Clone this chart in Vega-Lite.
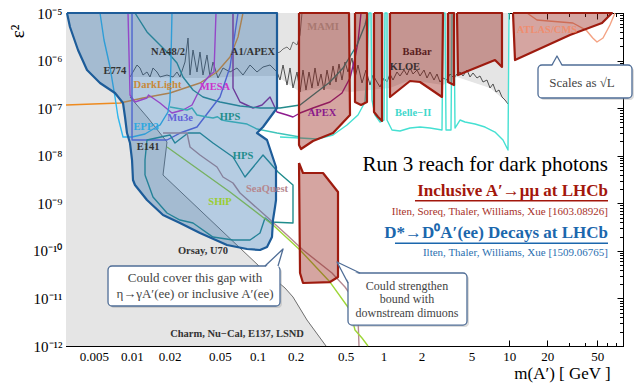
{
"$schema":"https://vega.github.io/schema/vega-lite/v6.json",
"width":557,"height":333,
"autosize":{"type":"none"},
"padding":{"left":66,"top":13,"right":11,"bottom":39},
"background":"white",
"config":{"view":{"stroke":"#000","strokeWidth":1},"axis":{"grid":false,"domainColor":"#000","tickColor":"#000","labelColor":"#000","labelFont":"Liberation Serif","titleFont":"Liberation Serif","titleFontWeight":"normal","titleColor":"#000"}},
"resolve":{"axis":{"x":"independent","y":"independent"},"scale":{"color":"independent"}},
"datasets":{
"polys":[
{"g":"bg","id":"bg","i":0,"m":0.003,"e":1e-12},{"g":"bg","id":"bg","i":1,"m":0.003,"e":1e-5},{"g":"bg","id":"bg","i":2,"m":9.757,"e":1e-5},{"g":"bg","id":"bg","i":3,"m":9.757,"e":1e-12},{"g":"bg","id":"bg","i":4,"m":0.003,"e":1e-12},
{"g":"w","id":"w","i":0,"m":0.01004,"e":4.52e-7},{"g":"w","id":"w","i":1,"m":0.01395,"e":4.52e-7},{"g":"w","id":"w","i":2,"m":0.02647,"e":4.3e-7},{"g":"w","id":"w","i":3,"m":0.04182,"e":4.3e-7},{"g":"w","id":"w","i":4,"m":0.07647,"e":4.74e-7},{"g":"w","id":"w","i":5,"m":0.1425,"e":4.74e-7},{"g":"w","id":"w","i":6,"m":0.2171,"e":2.18e-7},{"g":"w","id":"w","i":7,"m":0.313,"e":2.65e-7},{"g":"w","id":"w","i":8,"m":0.5418,"e":2.18e-7},{"g":"w","id":"w","i":9,"m":0.7811,"e":2.405e-7},{"g":"w","id":"w","i":10,"m":1.126,"e":2.65e-7},{"g":"w","id":"w","i":11,"m":1.624,"e":3.9e-7},{"g":"w","id":"w","i":12,"m":2.971,"e":3.06e-7},{"g":"w","id":"w","i":13,"m":3.837,"e":4.52e-7},{"g":"w","id":"w","i":14,"m":7.02,"e":2.65e-7},{"g":"w","id":"w","i":15,"m":9.757,"e":1.283e-7},{"g":"w","id":"w","i":16,"m":9.757,"e":1e-12},{"g":"w","id":"w","i":17,"m":0.3493,"e":1e-12},{"g":"w","id":"w","i":18,"m":0.2466,"e":3.52e-12},{"g":"w","id":"w","i":19,"m":0.1909,"e":1.072e-11},{"g":"w","id":"w","i":20,"m":0.165,"e":1.656e-11},{"g":"w","id":"w","i":21,"m":0.1044,"e":4.58e-11},{"g":"w","id":"w","i":22,"m":0.0177,"e":3.93e-9},{"g":"w","id":"w","i":23,"m":0.01904,"e":1.94e-8},{"g":"w","id":"w","i":24,"m":0.01345,"e":6.2e-8},{"g":"w","id":"w","i":25,"m":0.01004,"e":1.483e-7},{"g":"w","id":"w","i":26,"m":0.01004,"e":4.52e-7},
{"g":"b","id":"b","i":0,"m":0.003055,"e":1e-5},{"g":"b","id":"b","i":1,"m":0.003227,"e":5.08e-6},{"g":"b","id":"b","i":2,"m":0.003737,"e":1.668e-6},{"g":"b","id":"b","i":3,"m":0.004406,"e":6.33e-7},{"g":"b","id":"b","i":4,"m":0.00559,"e":3.38e-7},{"g":"b","id":"b","i":5,"m":0.007353,"e":2.08e-7},{"g":"b","id":"b","i":6,"m":0.008513,"e":1.283e-7},{"g":"b","id":"b","i":7,"m":0.008831,"e":6.51e-8},{"g":"b","id":"b","i":8,"m":0.00916,"e":3.0e-8},{"g":"b","id":"b","i":9,"m":0.009676,"e":1.85e-8},{"g":"b","id":"b","i":10,"m":0.01004,"e":8.12e-9},{"g":"b","id":"b","i":11,"m":0.01022,"e":3.09e-9},{"g":"b","id":"b","i":12,"m":0.0106,"e":2.42e-9},{"g":"b","id":"b","i":13,"m":0.0132,"e":1.172e-9},{"g":"b","id":"b","i":14,"m":0.0177,"e":5.67e-10},{"g":"b","id":"b","i":15,"m":0.02415,"e":3.85e-10},{"g":"b","id":"b","i":16,"m":0.03482,"e":2.37e-10},{"g":"b","id":"b","i":17,"m":0.05706,"e":1.327e-10},{"g":"b","id":"b","i":18,"m":0.08231,"e":1.094e-10},{"g":"b","id":"b","i":19,"m":0.1044,"e":1.042e-10},{"g":"b","id":"b","i":20,"m":0.1187,"e":1.205e-10},{"g":"b","id":"b","i":21,"m":0.13,"e":1.95e-10},{"g":"b","id":"b","i":22,"m":0.1324,"e":4.45e-10},{"g":"b","id":"b","i":23,"m":0.1374,"e":8.35e-10},{"g":"b","id":"b","i":24,"m":0.1399,"e":1.172e-9},{"g":"b","id":"b","i":25,"m":0.1399,"e":5.79e-9},{"g":"b","id":"b","i":26,"m":0.1187,"e":2.14e-8},{"g":"b","id":"b","i":27,"m":0.0988,"e":3.0e-8},{"g":"b","id":"b","i":28,"m":0.1103,"e":4.01e-8},{"g":"b","id":"b","i":29,"m":0.1425,"e":1.007e-7},{"g":"b","id":"b","i":30,"m":0.1425,"e":1e-5},{"g":"b","id":"b","i":31,"m":0.003055,"e":1e-5},
{"g":"r","id":"r1","i":0,"m":0.2131,"e":1e-5},{"g":"r","id":"r1","i":1,"m":0.5318,"e":1e-5},{"g":"r","id":"r1","i":2,"m":0.5418,"e":7.17e-8},{"g":"r","id":"r1","i":3,"m":0.397,"e":3.0e-8},{"g":"r","id":"r1","i":4,"m":0.2753,"e":2.04e-8},{"g":"r","id":"r1","i":5,"m":0.2211,"e":1.384e-8},{"g":"r","id":"r1","i":6,"m":0.2131,"e":1.68e-8},{"g":"r","id":"r1","i":7,"m":0.2131,"e":1e-5},
{"g":"r","id":"r2","i":0,"m":0.5936,"e":1e-5},{"g":"r","id":"r2","i":1,"m":0.7394,"e":1e-5},{"g":"r","id":"r2","i":2,"m":0.7394,"e":1.346e-7},{"g":"r","id":"r2","i":3,"m":0.6627,"e":1.164e-7},{"g":"r","id":"r2","i":4,"m":0.5936,"e":1.346e-7},{"g":"r","id":"r2","i":5,"m":0.5936,"e":1e-5},
{"g":"r","id":"r3","i":0,"m":0.8404,"e":1e-5},{"g":"r","id":"r3","i":1,"m":0.9729,"e":1e-5},{"g":"r","id":"r3","i":2,"m":0.9729,"e":5.37e-8},{"g":"r","id":"r3","i":3,"m":0.9044,"e":6.51e-8},{"g":"r","id":"r3","i":4,"m":0.8404,"e":8.3e-8},{"g":"r","id":"r3","i":5,"m":0.8404,"e":1e-5},
{"g":"r","id":"r4","i":0,"m":1.126,"e":1e-5},{"g":"r","id":"r4","i":1,"m":2.971,"e":1e-5},{"g":"r","id":"r4","i":2,"m":2.917,"e":1.715e-7},{"g":"r","id":"r4","i":3,"m":1.95,"e":3.54e-7},{"g":"r","id":"r4","i":4,"m":1.624,"e":3.72e-7},{"g":"r","id":"r4","i":5,"m":1.126,"e":1.715e-7},{"g":"r","id":"r4","i":6,"m":1.126,"e":1e-5},
{"g":"r","id":"r5","i":0,"m":3.254,"e":1e-5},{"g":"r","id":"r5","i":1,"m":3.633,"e":1e-5},{"g":"r","id":"r5","i":2,"m":3.633,"e":3.06e-7},{"g":"r","id":"r5","i":3,"m":3.254,"e":3.54e-7},{"g":"r","id":"r5","i":4,"m":3.254,"e":1e-5},
{"g":"r","id":"r6","i":0,"m":3.837,"e":1e-5},{"g":"r","id":"r6","i":1,"m":8.74,"e":1e-5},{"g":"r","id":"r6","i":2,"m":8.74,"e":7.32e-7},{"g":"r","id":"r6","i":3,"m":7.69,"e":1.028e-6},{"g":"r","id":"r6","i":4,"m":3.908,"e":4.97e-7},{"g":"r","id":"r6","i":5,"m":3.837,"e":1e-5},
{"g":"r","id":"r7","i":0,"m":10.69,"e":1e-5},{"g":"r","id":"r7","i":1,"m":65.4,"e":1e-5},{"g":"r","id":"r7","i":2,"m":54.5,"e":6.16e-6},{"g":"r","id":"r7","i":3,"m":30.3,"e":3.45e-6},{"g":"r","id":"r7","i":4,"m":11.09,"e":1.028e-6},{"g":"r","id":"r7","i":5,"m":10.69,"e":1e-5},
{"g":"r","id":"r8","i":0,"m":0.2131,"e":7.03e-9},{"g":"r","id":"r8","i":1,"m":0.2293,"e":4.33e-9},{"g":"r","id":"r8","i":2,"m":0.3306,"e":4.33e-9},{"g":"r","id":"r8","i":3,"m":0.435,"e":1.727e-9},{"g":"r","id":"r8","i":4,"m":0.435,"e":2.82e-11},{"g":"r","id":"r8","i":5,"m":0.3757,"e":2.21e-11},{"g":"r","id":"r8","i":6,"m":0.2293,"e":2.11e-11},{"g":"r","id":"r8","i":7,"m":0.2171,"e":3.42e-11},{"g":"r","id":"r8","i":8,"m":0.2131,"e":7.03e-9},
{"g":"p","id":"p1","i":0,"m":0.1144,"e":4.36e-11},{"g":"p","id":"p1","i":1,"m":0.1591,"e":1.094e-10},{"g":"p","id":"p1","i":2,"m":0.1451,"e":4.36e-11},
{"g":"p","id":"p2","i":0,"m":0.5418,"e":2.01e-11},{"g":"p","id":"p2","i":1,"m":0.4271,"e":5.83e-11},{"g":"p","id":"p2","i":2,"m":0.6506,"e":3.11e-11},{"g":"p","id":"p2","i":3,"m":0.5418,"e":3.11e-11},
{"g":"p","id":"p3","i":0,"m":21.82,"e":7.32e-7},{"g":"p","id":"p3","i":1,"m":23.91,"e":1.248e-6},{"g":"p","id":"p3","i":2,"m":26.2,"e":7.32e-7},
{"g":"q","id":"q1","i":0,"m":0.1144,"e":4.8e-11},{"g":"q","id":"q1","i":1,"m":0.1591,"e":1.094e-10},{"g":"q","id":"q1","i":2,"m":0.1451,"e":4.8e-11},
{"g":"q","id":"q2","i":0,"m":0.5223,"e":2.11e-11},{"g":"q","id":"q2","i":1,"m":0.4271,"e":5.83e-11},{"g":"q","id":"q2","i":2,"m":0.6506,"e":3.42e-11},
{"g":"q","id":"q3","i":0,"m":21.82,"e":8.07e-7},{"g":"q","id":"q3","i":1,"m":23.91,"e":1.248e-6},{"g":"q","id":"q3","i":2,"m":26.2,"e":8.07e-7}
],
"gray":[
{"s":"e141","i":0,"m":0.009676,"e":1.715e-7},{"s":"e141","i":1,"m":0.01345,"e":6.2e-8},{"s":"e141","i":2,"m":0.01904,"e":1.94e-8},{"s":"e141","i":3,"m":0.0177,"e":3.93e-9},{"s":"e141","i":4,"m":0.1044,"e":4.58e-11},{"s":"e141","i":5,"m":0.165,"e":1.656e-11},{"s":"e141","i":6,"m":0.1909,"e":1.072e-11},{"s":"e141","i":7,"m":0.2466,"e":3.52e-12},{"s":"e141","i":8,"m":0.3493,"e":1e-12},
{"s":"a1","i":0,"m":0.1425,"e":1.442e-6},{"s":"a1","i":1,"m":0.1505,"e":1.514e-6},{"s":"a1","i":2,"m":0.1591,"e":1.75e-6},{"s":"a1","i":3,"m":0.1711,"e":1.929e-6},{"s":"a1","i":4,"m":0.1808,"e":1.668e-6},{"s":"a1","i":5,"m":0.1909,"e":2.46e-6},{"s":"a1","i":6,"m":0.2055,"e":2.125e-6},{"s":"a1","i":7,"m":0.2171,"e":3.45e-6},{"s":"a1","i":8,"m":0.2251,"e":1e-5},
{"s":"jag","i":0,"m":0.00968,"e":4.52e-7},{"s":"jag","i":1,"m":0.011,"e":8.07e-7},{"s":"jag","i":2,"m":0.01162,"e":6.98e-7},{"s":"jag","i":3,"m":0.01227,"e":4.97e-7},{"s":"jag","i":4,"m":0.0132,"e":5.75e-7},{"s":"jag","i":5,"m":0.01395,"e":4.52e-7},{"s":"jag","i":6,"m":0.01474,"e":6.98e-7},{"s":"jag","i":7,"m":0.01586,"e":5.75e-7},{"s":"jag","i":8,"m":0.01675,"e":4.52e-7},{"s":"jag","i":9,"m":0.01904,"e":4.97e-7},{"s":"jag","i":10,"m":0.02125,"e":4.52e-7},{"s":"jag","i":11,"m":0.02286,"e":5.75e-7},{"s":"jag","i":12,"m":0.02415,"e":4.52e-7},{"s":"jag","i":13,"m":0.02647,"e":9.33e-7},{"s":"jag","i":14,"m":0.02797,"e":2.98e-6},{"s":"jag","i":15,"m":0.02901,"e":4.97e-7},{"s":"jag","i":16,"m":0.03064,"e":1.668e-6},{"s":"jag","i":17,"m":0.03296,"e":5.75e-7},{"s":"jag","i":18,"m":0.03482,"e":1.514e-6},{"s":"jag","i":19,"m":0.03679,"e":4.97e-7},{"s":"jag","i":20,"m":0.03959,"e":1.31e-6},{"s":"jag","i":21,"m":0.04182,"e":4.52e-7},{"s":"jag","i":22,"m":0.04418,"e":9.33e-7},{"s":"jag","i":23,"m":0.0484,"e":4.3e-7},{"s":"jag","i":24,"m":0.05305,"e":6.98e-7},{"s":"jag","i":25,"m":0.0603,"e":5.75e-7},{"s":"jag","i":26,"m":0.06852,"e":6.98e-7},{"s":"jag","i":27,"m":0.07647,"e":4.97e-7},{"s":"jag","i":28,"m":0.08698,"e":8.07e-7},{"s":"jag","i":29,"m":0.09881,"e":5.75e-7},{"s":"jag","i":30,"m":0.1103,"e":7.32e-7},{"s":"jag","i":31,"m":0.1254,"e":8.07e-7},{"s":"jag","i":32,"m":0.1425,"e":5.75e-7},{"s":"jag","i":33,"m":0.1505,"e":3.9e-7},{"s":"jag","i":34,"m":0.1591,"e":8.07e-7},{"s":"jag","i":35,"m":0.1711,"e":3.06e-7},{"s":"jag","i":36,"m":0.1808,"e":6.98e-7},{"s":"jag","i":37,"m":0.1909,"e":2.65e-7},{"s":"jag","i":38,"m":0.2055,"e":5.75e-7},{"s":"jag","i":39,"m":0.2171,"e":2.18e-7},{"s":"jag","i":40,"m":0.2293,"e":6.33e-7},{"s":"jag","i":41,"m":0.2422,"e":2.405e-7},{"s":"jag","i":42,"m":0.2559,"e":5.75e-7},{"s":"jag","i":43,"m":0.2703,"e":2.65e-7},{"s":"jag","i":44,"m":0.2856,"e":6.98e-7},{"s":"jag","i":45,"m":0.3017,"e":2.92e-7},{"s":"jag","i":46,"m":0.3187,"e":5.22e-7},{"s":"jag","i":47,"m":0.3367,"e":2.405e-7},{"s":"jag","i":48,"m":0.3557,"e":6.33e-7},{"s":"jag","i":49,"m":0.3757,"e":3.06e-7},{"s":"jag","i":50,"m":0.397,"e":7.69e-7},{"s":"jag","i":51,"m":0.4194,"e":3.54e-7},{"s":"jag","i":52,"m":0.443,"e":8.47e-7},{"s":"jag","i":53,"m":0.468,"e":3.9e-7},{"s":"jag","i":54,"m":0.4944,"e":9.33e-7},{"s":"jag","i":55,"m":0.5223,"e":5.75e-7},{"s":"jag","i":56,"m":0.5621,"e":1.132e-6},{"s":"jag","i":57,"m":0.5936,"e":4.3e-7},{"s":"jag","i":58,"m":0.6271,"e":8.07e-7},{"s":"jag","i":59,"m":0.6748,"e":3.38e-7},{"s":"jag","i":60,"m":0.7262,"e":6.33e-7},{"s":"jag","i":61,"m":0.7811,"e":3.06e-7},{"s":"jag","i":62,"m":0.8254,"e":4.97e-7},{"s":"jag","i":63,"m":0.8876,"e":3.54e-7},{"s":"jag","i":64,"m":0.938,"e":2.78e-7},{"s":"jag","i":65,"m":1.0092,"e":4.3e-7},{"s":"jag","i":66,"m":1.066,"e":3.54e-7},{"s":"jag","i":67,"m":1.126,"e":5.22e-7},{"s":"jag","i":68,"m":1.19,"e":3.9e-7},{"s":"jag","i":69,"m":1.28,"e":5.75e-7},{"s":"jag","i":70,"m":1.352,"e":4.74e-7},{"s":"jag","i":71,"m":1.455,"e":6.33e-7},{"s":"jag","i":72,"m":1.537,"e":4.97e-7},{"s":"jag","i":73,"m":1.624,"e":6.98e-7},{"s":"jag","i":74,"m":1.716,"e":5.22e-7},{"s":"jag","i":75,"m":1.846,"e":6.33e-7},{"s":"jag","i":76,"m":1.95,"e":4.74e-7},{"s":"jag","i":77,"m":2.098,"e":6.33e-7},{"s":"jag","i":78,"m":2.216,"e":4.3e-7},{"s":"jag","i":79,"m":2.341,"e":5.75e-7},{"s":"jag","i":80,"m":2.519,"e":3.9e-7},{"s":"jag","i":81,"m":2.661,"e":5.22e-7},{"s":"jag","i":82,"m":2.812,"e":3.54e-7},{"s":"jag","i":83,"m":2.971,"e":4.3e-7},{"s":"jag","i":84,"m":3.196,"e":3.9e-7},{"s":"jag","i":85,"m":3.377,"e":5.22e-7},{"s":"jag","i":86,"m":3.633,"e":4.3e-7},{"s":"jag","i":87,"m":3.837,"e":5.22e-7},{"s":"jag","i":88,"m":4.055,"e":5.75e-7},{"s":"jag","i":89,"m":4.283,"e":4.74e-7},{"s":"jag","i":90,"m":4.608,"e":6.33e-7},{"s":"jag","i":91,"m":4.868,"e":4.52e-7},{"s":"jag","i":92,"m":5.143,"e":5.48e-7},{"s":"jag","i":93,"m":5.533,"e":4.3e-7},{"s":"jag","i":94,"m":5.845,"e":4.74e-7},{"s":"jag","i":95,"m":6.176,"e":3.54e-7},{"s":"jag","i":96,"m":6.643,"e":3.9e-7},{"s":"jag","i":97,"m":7.02,"e":2.65e-7},{"s":"jag","i":98,"m":7.417,"e":3.22e-7},{"s":"jag","i":99,"m":7.834,"e":2.18e-7},{"s":"jag","i":100,"m":8.277,"e":2.405e-7},{"s":"jag","i":101,"m":8.74,"e":1.715e-7},{"s":"jag","i":102,"m":9.237,"e":1.483e-7},{"s":"jag","i":103,"m":9.757,"e":1.222e-7}
],
"lines":[
{"s":"dl","i":0,"m":0.003,"e":1.164e-7},{"s":"dl","i":1,"m":0.008054,"e":1.283e-7},{"s":"dl","i":2,"m":0.01227,"e":1.634e-7},{"s":"dl","i":3,"m":0.02011,"e":2.08e-7},{"s":"dl","i":4,"m":0.03482,"e":3.38e-7},{"s":"dl","i":5,"m":0.04753,"e":5.75e-7},{"s":"dl","i":6,"m":0.0603,"e":1.189e-6},{"s":"dl","i":7,"m":0.06982,"e":3.13e-6},{"s":"dl","i":8,"m":0.07647,"e":1e-5},
{"s":"mesa","i":0,"m":0.00933,"e":1e-5},{"s":"mesa","i":1,"m":0.00968,"e":1.89e-7},{"s":"mesa","i":2,"m":0.0106,"e":1.346e-7},{"s":"mesa","i":3,"m":0.0132,"e":1.634e-7},{"s":"mesa","i":4,"m":0.01357,"e":1.89e-7},{"s":"mesa","i":5,"m":0.01675,"e":1.283e-7},{"s":"mesa","i":6,"m":0.02086,"e":7.9e-8},{"s":"mesa","i":7,"m":0.02551,"e":9.14e-8},{"s":"mesa","i":8,"m":0.03009,"e":1.164e-7},{"s":"mesa","i":9,"m":0.03296,"e":1.89e-7},{"s":"mesa","i":10,"m":0.03749,"e":3.54e-7},{"s":"mesa","i":11,"m":0.04182,"e":4.97e-7},{"s":"mesa","i":12,"m":0.04499,"e":5.75e-7},{"s":"mesa","i":13,"m":0.04667,"e":1e-5},
{"s":"apex","i":0,"m":0.06369,"e":1e-5},{"s":"apex","i":1,"m":0.06369,"e":2.65e-7},{"s":"apex","i":2,"m":0.07243,"e":1.346e-7},{"s":"apex","i":3,"m":0.09183,"e":1.007e-7},{"s":"apex","i":4,"m":0.1083,"e":1.164e-7},{"s":"apex","i":5,"m":0.1254,"e":1.715e-7},{"s":"apex","i":6,"m":0.1425,"e":8.3e-8},{"s":"apex","i":7,"m":0.1711,"e":7.17e-8},{"s":"apex","i":8,"m":0.1909,"e":6.51e-8},{"s":"apex","i":9,"m":0.2171,"e":7.9e-8},{"s":"apex","i":10,"m":0.2753,"e":1.007e-7},{"s":"apex","i":11,"m":0.3757,"e":1.346e-7},{"s":"apex","i":12,"m":0.468,"e":2.08e-7},{"s":"apex","i":13,"m":0.5418,"e":4.3e-7},{"s":"apex","i":14,"m":0.5936,"e":1.132e-6},{"s":"apex","i":15,"m":0.6271,"e":2.46e-6},{"s":"apex","i":16,"m":0.6627,"e":1e-5},
{"s":"hps1","i":0,"m":0.0106,"e":1e-5},{"s":"hps1","i":1,"m":0.0132,"e":3.99e-6},{"s":"hps1","i":2,"m":0.01675,"e":2.125e-6},{"s":"hps1","i":3,"m":0.02011,"e":1.31e-6},{"s":"hps1","i":4,"m":0.02286,"e":8.89e-7},{"s":"hps1","i":5,"m":0.02551,"e":4.52e-7},{"s":"hps1","i":6,"m":0.03064,"e":2.405e-7},{"s":"hps1","i":7,"m":0.03679,"e":1.715e-7},{"s":"hps1","i":8,"m":0.05023,"e":1.346e-7},{"s":"hps1","i":9,"m":0.07243,"e":1.109e-7},{"s":"hps1","i":10,"m":0.1044,"e":1.007e-7},{"s":"hps1","i":11,"m":0.1505,"e":1.007e-7},{"s":"hps1","i":12,"m":0.2171,"e":1.164e-7},{"s":"hps1","i":13,"m":0.2753,"e":1.89e-7},{"s":"hps1","i":14,"m":0.3757,"e":3.54e-7},{"s":"hps1","i":15,"m":0.4767,"e":6.98e-7},{"s":"hps1","i":16,"m":0.6157,"e":2.125e-6},{"s":"hps1","i":17,"m":0.7129,"e":5.59e-6},{"s":"hps1","i":18,"m":0.7529,"e":1e-5},
{"s":"epp3","i":0,"m":0.00559,"e":1e-5},{"s":"epp3","i":1,"m":0.006013,"e":2.706e-6},{"s":"epp3","i":2,"m":0.006711,"e":7.32e-7},{"s":"epp3","i":3,"m":0.007353,"e":1.715e-7},{"s":"epp3","i":4,"m":0.007769,"e":6.51e-8},{"s":"epp3","i":5,"m":0.008513,"e":2.47e-8},{"s":"epp3","i":6,"m":0.01004,"e":2.47e-8},{"s":"epp3","i":7,"m":0.01273,"e":2.86e-8},{"s":"epp3","i":8,"m":0.01675,"e":4.42e-8},{"s":"epp3","i":9,"m":0.01939,"e":8.3e-8},{"s":"epp3","i":10,"m":0.02011,"e":1.483e-7},{"s":"epp3","i":11,"m":0.02048,"e":1.028e-6},{"s":"epp3","i":12,"m":0.02086,"e":1e-5},
{"s":"mu3e","i":0,"m":0.01004,"e":1e-5},{"s":"mu3e","i":1,"m":0.01004,"e":2.14e-8},{"s":"mu3e","i":2,"m":0.01904,"e":2.14e-8},{"s":"mu3e","i":3,"m":0.02415,"e":3.0e-8},{"s":"mu3e","i":4,"m":0.03296,"e":4.01e-8},{"s":"mu3e","i":5,"m":0.04182,"e":9.14e-8},{"s":"mu3e","i":6,"m":0.05023,"e":1.715e-7},{"s":"mu3e","i":7,"m":0.0603,"e":7.32e-7},{"s":"mu3e","i":8,"m":0.06607,"e":3.8e-6},{"s":"mu3e","i":9,"m":0.06982,"e":1e-5},
{"s":"hps2","i":0,"m":0.02011,"e":1.057e-7},{"s":"hps2","i":1,"m":0.02746,"e":9.14e-8},{"s":"hps2","i":2,"m":0.03009,"e":1.007e-7},{"s":"hps2","i":3,"m":0.03296,"e":7.17e-8},{"s":"hps2","i":4,"m":0.03959,"e":6.51e-8},{"s":"hps2","i":5,"m":0.04418,"e":6.2e-8},{"s":"hps2","i":6,"m":0.048,"e":6.6e-8},{"s":"hps2","i":7,"m":0.052,"e":5.6e-8},{"s":"hps2","i":8,"m":0.05706,"e":5.37e-8},{"s":"hps2","i":9,"m":0.08231,"e":4.64e-8},{"s":"hps2","i":10,"m":0.09881,"e":3.64e-8},{"s":"hps2","i":11,"m":0.1425,"e":3.0e-8},{"s":"hps2","i":12,"m":0.2171,"e":2.47e-8},
{"s":"belle","i":0,"m":0.1505,"e":2.47e-8},{"s":"belle","i":1,"m":0.2171,"e":2.36e-8},{"s":"belle","i":2,"m":0.2962,"e":2.25e-8},{"s":"belle","i":3,"m":0.397,"e":2.73e-8},{"s":"belle","i":4,"m":0.5129,"e":4.42e-8},{"s":"belle","i":5,"m":0.6271,"e":7.17e-8},{"s":"belle","i":6,"m":0.7129,"e":1.346e-7},{"s":"belle","i":7,"m":0.7394,"e":5.75e-7},{"s":"belle","i":8,"m":0.7529,"e":2.98e-6},{"s":"belle","i":9,"m":0.7668,"e":1e-5},{"s":"belle","i":10,"m":0.7956,"e":1e-5},{"s":"belle","i":11,"m":0.8101,"e":1.483e-7},{"s":"belle","i":12,"m":0.8561,"e":7.17e-8},{"s":"belle","i":13,"m":0.938,"e":5.11e-8},{"s":"belle","i":14,"m":1.0092,"e":5.63e-8},{"s":"belle","i":15,"m":1.0278,"e":1e-5},{"s":"belle","i":16,"m":1.066,"e":1e-5},{"s":"belle","i":17,"m":1.066,"e":5.63e-8},{"s":"belle","i":18,"m":1.168,"e":3.47e-8},{"s":"belle","i":19,"m":1.352,"e":3.31e-8},{"s":"belle","i":20,"m":1.624,"e":3.82e-8},{"s":"belle","i":21,"m":1.95,"e":4.01e-8},{"s":"belle","i":22,"m":2.341,"e":3.82e-8},{"s":"belle","i":23,"m":2.917,"e":3.47e-8},{"s":"belle","i":24,"m":2.971,"e":1e-5},{"s":"belle","i":25,"m":3.082,"e":1e-5},{"s":"belle","i":26,"m":3.139,"e":3.47e-8},{"s":"belle","i":27,"m":3.439,"e":3.47e-8},{"s":"belle","i":28,"m":3.502,"e":1e-5},{"s":"belle","i":29,"m":3.633,"e":1e-5},{"s":"belle","i":30,"m":3.7,"e":3.82e-8},{"s":"belle","i":31,"m":4.055,"e":5.63e-8},{"s":"belle","i":32,"m":4.442,"e":5.11e-8},{"s":"belle","i":33,"m":5.335,"e":4.64e-8},{"s":"belle","i":34,"m":6.407,"e":4.01e-8},{"s":"belle","i":35,"m":7.69,"e":3.15e-8},{"s":"belle","i":36,"m":8.902,"e":2.14e-8},{"s":"belle","i":37,"m":9.757,"e":1.318e-8},{"s":"belle","i":38,"m":9.937,"e":1e-5},
{"s":"hps3","i":0,"m":0.01273,"e":3.93e-9},{"s":"hps3","i":1,"m":0.01474,"e":1.355e-9},{"s":"hps3","i":2,"m":0.01904,"e":6.25e-10},{"s":"hps3","i":3,"m":0.02415,"e":4.45e-10},{"s":"hps3","i":4,"m":0.03064,"e":3.85e-10},{"s":"hps3","i":5,"m":0.04418,"e":1.95e-10},{"s":"hps3","i":6,"m":0.06369,"e":1.69e-10},{"s":"hps3","i":7,"m":0.08698,"e":1.69e-10},{"s":"hps3","i":8,"m":0.1044,"e":2.37e-10},{"s":"hps3","i":9,"m":0.1144,"e":4.9e-10},{"s":"hps3","i":10,"m":0.1254,"e":4.04e-10},{"s":"hps3","i":11,"m":0.1909,"e":3.85e-10},{"s":"hps3","i":12,"m":0.1909,"e":2.42e-9},{"s":"hps3","i":13,"m":0.1451,"e":4.55e-9},{"s":"hps3","i":14,"m":0.1103,"e":1.035e-8},{"s":"hps3","i":15,"m":0.07933,"e":3.57e-9},{"s":"hps3","i":16,"m":0.06369,"e":9.4e-9},{"s":"hps3","i":17,"m":0.04418,"e":1.85e-8},{"s":"hps3","i":18,"m":0.03482,"e":3.0e-8},{"s":"hps3","i":19,"m":0.02797,"e":3.0e-8},{"s":"hps3","i":20,"m":0.02204,"e":1.85e-8},{"s":"hps3","i":21,"m":0.02011,"e":2.73e-8},{"s":"hps3","i":22,"m":0.0132,"e":2.14e-8},{"s":"hps3","i":23,"m":0.01273,"e":8.12e-9},{"s":"hps3","i":24,"m":0.01273,"e":3.93e-9},
{"s":"sq","i":0,"m":0.0177,"e":3.0e-8},{"s":"sq","i":1,"m":0.02746,"e":3.0e-8},{"s":"sq","i":2,"m":0.02901,"e":1.524e-8},{"s":"sq","i":3,"m":0.03482,"e":1.035e-8},{"s":"sq","i":4,"m":0.03959,"e":8.12e-9},{"s":"sq","i":5,"m":0.04753,"e":5.79e-9},{"s":"sq","i":6,"m":0.05305,"e":3.57e-9},{"s":"sq","i":7,"m":0.06369,"e":2.67e-9},{"s":"sq","i":8,"m":0.07243,"e":1.645e-9},{"s":"sq","i":9,"m":0.1187,"e":5.15e-10},{"s":"sq","i":10,"m":0.1711,"e":2.15e-10},{"s":"sq","i":11,"m":0.2293,"e":1.042e-10},{"s":"sq","i":12,"m":0.3898,"e":3.42e-11},{"s":"sq","i":13,"m":0.4944,"e":1.739e-11},{"s":"sq","i":14,"m":0.5621,"e":1.072e-11},{"s":"sq","i":15,"m":0.6271,"e":4.07e-12},{"s":"sq","i":16,"m":0.6388,"e":1e-12},
{"s":"ship","i":0,"m":0.01904,"e":1.524e-8},{"s":"ship","i":1,"m":0.0603,"e":1.727e-9},{"s":"ship","i":2,"m":0.1324,"e":3.5e-10},{"s":"ship","i":3,"m":0.2171,"e":1.042e-10},{"s":"ship","i":4,"m":0.3757,"e":2.21e-11},{"s":"ship","i":5,"m":0.5418,"e":5.71e-12},{"s":"ship","i":6,"m":0.5936,"e":2.17e-12},{"s":"ship","i":7,"m":0.6748,"e":1.47e-12},{"s":"ship","i":8,"m":0.7529,"e":1e-12},
{"s":"atlas","i":0,"m":13.81,"e":1e-5},{"s":"atlas","i":1,"m":16.58,"e":7.13e-6},{"s":"atlas","i":2,"m":20.5,"e":6.8e-6},{"s":"atlas","i":3,"m":32.0,"e":6.16e-6},{"s":"atlas","i":4,"m":41.0,"e":4.3e-6},{"s":"atlas","i":5,"m":46.0,"e":2.98e-6},{"s":"atlas","i":6,"m":49.72,"e":2.46e-6},{"s":"atlas","i":7,"m":55.5,"e":2.98e-6},{"s":"atlas","i":8,"m":63.0,"e":5.59e-6},{"s":"atlas","i":9,"m":69.1,"e":1e-5}
],
"labels":[
{"t":"E774","s":"k","m":0.00735,"e":6.04e-7},{"t":"NA48/2","s":"k","m":0.0194,"e":1.51e-6},{"t":"A1/APEX","s":"k","m":0.0919,"e":1.51e-6},{"t":"DarkLight","s":"dl","m":0.016,"e":3.06e-7},{"t":"MESA","s":"mesa","m":0.0458,"e":2.78e-7},{"t":"EPP3","s":"epp3","m":0.013,"e":4.02e-8},{"t":"Mu3e","s":"mu3e","m":0.0242,"e":6.21e-8},{"t":"HPS","s":"hps","m":0.0603,"e":6.51e-8},{"t":"E141","s":"k","m":0.01346,"e":1.52e-8},{"t":"HPS","s":"hps","m":0.0765,"e":9.87e-9},{"t":"SeaQuest","s":"sq","m":0.1187,"e":2.0e-9},{"t":"SHiP","s":"ship","m":0.0502,"e":1.06e-9},{"t":"Orsay, U70","s":"k","m":0.0368,"e":9.9e-11},{"t":"Charm, Nu−Cal, E137, LSND","s":"k","m":0.0686,"e":1.79e-12},{"t":"MAMI","s":"mami","m":0.331,"e":5.08e-6},{"t":"BaBar","s":"babar","m":1.85,"e":1.51e-6},{"t":"KLOE","s":"kloe","m":1.48,"e":7.33e-7},{"t":"APEX","s":"apex","m":0.325,"e":7.9e-8},{"t":"Belle−II","s":"belle","m":1.72,"e":7.9e-8},{"t":"ATLAS/CMS","s":"atlas","m":19.9,"e":4.4e-6}
],
"boxes":[
{"id":"c1","m1":0.006471,"m2":0.1505,"e1":4.8e-11,"e2":6.93e-12},
{"id":"c2","m1":0.5223,"m2":4.608,"e1":3.42e-11,"e2":2.76e-12},
{"id":"c3","m1":16.89,"m2":94.3,"e1":8.07e-7,"e2":1.634e-7}
],
"shadows":[
{"id":"c1","m1":0.006713,"m2":0.1561,"e1":4.36e-11,"e2":6.29e-12},
{"id":"c2","m1":0.5418,"m2":4.78,"e1":3.11e-11,"e2":2.5e-12},
{"id":"c3","m1":17.52,"m2":97.8,"e1":7.33e-7,"e2":1.483e-7}
],
"ctext":[
{"t":"Could cover this gap with","k":"big","m":0.03178,"e":2.69e-11},
{"t":"η→γA′(ee) or inclusive A′(ee)","k":"big","m":0.03178,"e":1.239e-11},
{"t":"Could strengthen","k":"small","m":1.537,"e":1.823e-11},
{"t":"bound with","k":"small","m":1.537,"e":9.73e-12},
{"t":"downstream dimuons","k":"small","m":1.537,"e":4.94e-12},
{"t":"Scales as √L","k":"big","m":37.78,"e":3.38e-7}
],
"notes":[
{"t":"Run 3 reach for dark photons","k":"head","m":60.8,"e":6.38e-9},
{"t":"Inclusive A′→μμ at LHCb","k":"red","m":60.8,"e":1.81e-9},
{"t":"Ilten, Soreq, Thaler, Williams, Xue [1603.08926]","k":"redsub","m":60.8,"e":6.56e-10},
{"t":"D*→D⁰A′(ee) Decays at LHCb","k":"blue","m":60.8,"e":2.37e-10},
{"t":"Ilten, Thaler, Williams, Xue [1509.06765]","k":"bluesub","m":60.8,"e":9.0e-11}
],
"ul":[
{"k":"red","m1":1.779,"m2":60.8,"e":1.133e-9},
{"k":"blue","m1":1.234,"m2":60.8,"e":1.439e-10}
]
},
"layer":[
{"data":{"name":"polys"},"transform":[{"filter":"datum.g==='bg'"}],
 "mark":{"type":"line","fill":"#e5e5e5","stroke":"#e5e5e5","strokeWidth":0},
 "encoding":{
  "x":{"field":"m","type":"quantitative","scale":{"type":"log","domain":[0.003,80],"nice":false},
   "axis":{"orient":"bottom","values":[0.003,0.004,0.005,0.006,0.007,0.008,0.009,0.01,0.02,0.03,0.04,0.05,0.06,0.07,0.08,0.09,0.1,0.2,0.3,0.4,0.5,0.6,0.7,0.8,0.9,1,2,3,4,5,6,7,8,9,10,20,30,40,50,60,70,80],
    "labelExpr":"indexof([1,2,5], round(datum.value/pow(10,floor(log(datum.value)/LN10+1e-6)))) >= 0 ? format(datum.value,'~g') : ''",
    "tickSize":{"condition":{"test":"indexof([1,2,5], round(datum.value/pow(10,floor(log(datum.value)/LN10+1e-6)))) >= 0","value":-6},"value":-3.5},
    "labelPadding":10,"labelFontSize":13,"labelOverlap":false,"labelFlush":false,
    "title":"m(A′)  [ GeV ]","titleFontSize":17,"titleX":496,"titleY":27,"titleAlign":"center","titleBaseline":"middle"}},
  "y":{"field":"e","type":"quantitative","scale":{"type":"log","domain":[1e-12,1e-5],"nice":false},
   "axis":{"orient":"left","values":[1e-12,2e-12,3e-12,4e-12,5e-12,6e-12,7e-12,8e-12,9e-12,1e-11,2e-11,3e-11,4e-11,5e-11,6e-11,7e-11,8e-11,9e-11,1e-10,2e-10,3e-10,4e-10,5e-10,6e-10,7e-10,8e-10,9e-10,1e-9,2e-9,3e-9,4e-9,5e-9,6e-9,7e-9,8e-9,9e-9,1e-8,2e-8,3e-8,4e-8,5e-8,6e-8,7e-8,8e-8,9e-8,1e-7,2e-7,3e-7,4e-7,5e-7,6e-7,7e-7,8e-7,9e-7,1e-6,2e-6,3e-6,4e-6,5e-6,6e-6,7e-6,8e-6,9e-6,1e-5],
    "labelExpr":"abs(log(datum.value)/LN10 - round(log(datum.value)/LN10)) > 0.01 ? '' : (round(log(datum.value)/LN10) == -5 ? '10⁻⁵' : round(log(datum.value)/LN10) == -6 ? '10⁻⁶' : round(log(datum.value)/LN10) == -7 ? '10⁻⁷' : round(log(datum.value)/LN10) == -8 ? '10⁻⁸' : round(log(datum.value)/LN10) == -9 ? '10⁻⁹' : round(log(datum.value)/LN10) == -10 ? '10⁻¹⁰' : round(log(datum.value)/LN10) == -11 ? '10⁻¹¹' : '10⁻¹²')",
    "tickSize":{"condition":{"test":"abs(log(datum.value)/LN10 - round(log(datum.value)/LN10)) < 0.01","value":-6},"value":-3.5},
    "labelPadding":10,"labelFontSize":15,"labelOverlap":false,"labelFlush":false,
    "title":"ε²","titleFontSize":19,"titleX":-49,"titleY":18,"titleAlign":"center","titleBaseline":"middle","titleAngle":-90}},
  "order":{"field":"i","type":"quantitative"}}},
{"data":{"name":"polys"},"transform":[{"filter":"datum.g==='w'"}],
 "mark":{"type":"line","fill":"#ffffff","stroke":"#ffffff","strokeWidth":0},
 "encoding":{
  "x":{"field":"m","type":"quantitative","scale":{"type":"log","domain":[0.003,80],"nice":false},
   "axis":{"orient":"top","values":[0.003,0.004,0.005,0.006,0.007,0.008,0.009,0.01,0.02,0.03,0.04,0.05,0.06,0.07,0.08,0.09,0.1,0.2,0.3,0.4,0.5,0.6,0.7,0.8,0.9,1,2,3,4,5,6,7,8,9,10,20,30,40,50,60,70,80],"labels":false,"title":null,
    "tickSize":{"condition":{"test":"indexof([1,2,5], round(datum.value/pow(10,floor(log(datum.value)/LN10+1e-6)))) >= 0","value":-6},"value":-3.5}}},
  "y":{"field":"e","type":"quantitative","scale":{"type":"log","domain":[1e-12,1e-5],"nice":false},
   "axis":{"orient":"right","values":[1e-12,2e-12,3e-12,4e-12,5e-12,6e-12,7e-12,8e-12,9e-12,1e-11,2e-11,3e-11,4e-11,5e-11,6e-11,7e-11,8e-11,9e-11,1e-10,2e-10,3e-10,4e-10,5e-10,6e-10,7e-10,8e-10,9e-10,1e-9,2e-9,3e-9,4e-9,5e-9,6e-9,7e-9,8e-9,9e-9,1e-8,2e-8,3e-8,4e-8,5e-8,6e-8,7e-8,8e-8,9e-8,1e-7,2e-7,3e-7,4e-7,5e-7,6e-7,7e-7,8e-7,9e-7,1e-6,2e-6,3e-6,4e-6,5e-6,6e-6,7e-6,8e-6,9e-6,1e-5],"labels":false,"title":null,
    "tickSize":{"condition":{"test":"abs(log(datum.value)/LN10 - round(log(datum.value)/LN10)) < 0.01","value":-6},"value":-3.5}}},
  "order":{"field":"i","type":"quantitative"}}},
{"data":{"name":"gray"},
 "mark":{"type":"line","strokeWidth":1,"strokeJoin":"round"},
 "encoding":{
  "x":{"field":"m","type":"quantitative","scale":{"type":"log","domain":[0.003,80],"nice":false},"axis":null},
  "y":{"field":"e","type":"quantitative","scale":{"type":"log","domain":[1e-12,1e-5],"nice":false},"axis":null},
  "color":{"field":"s","type":"nominal","scale":{"domain":["e141","a1","jag"],"range":["#6e6e6e","#707070","#505050"]},"legend":null},
  "detail":{"field":"s"},"order":{"field":"i","type":"quantitative"}}},
{"data":{"name":"lines"},
 "mark":{"type":"line","strokeWidth":1.4,"strokeJoin":"round"},
 "encoding":{
  "x":{"field":"m","type":"quantitative","scale":{"type":"log","domain":[0.003,80],"nice":false},"axis":null},
  "y":{"field":"e","type":"quantitative","scale":{"type":"log","domain":[1e-12,1e-5],"nice":false},"axis":null},
  "color":{"field":"s","type":"nominal","scale":{"domain":["dl","mesa","apex","hps1","epp3","mu3e","hps2","belle","hps3","sq","ship","atlas"],"range":["#ee8a1e","#cc2fd6","#8e1b8e","#238b8b","#2eb6ee","#5f5fe0","#3fc4ba","#45e0d2","#1f8c8c","#b58a92","#9ed638","#f4a283"]},"legend":null},
  "detail":{"field":"s"},"order":{"field":"i","type":"quantitative"}}},
{"data":{"name":"polys"},"transform":[{"filter":"datum.g==='b'"}],
 "mark":{"type":"line","fill":"rgb(50,113,175)","fillOpacity":0.36,"stroke":"#1d5c99","strokeWidth":2.2,"strokeJoin":"round"},
 "encoding":{
  "x":{"field":"m","type":"quantitative","scale":{"type":"log","domain":[0.003,80],"nice":false},"axis":null},
  "y":{"field":"e","type":"quantitative","scale":{"type":"log","domain":[1e-12,1e-5],"nice":false},"axis":null},
  "order":{"field":"i","type":"quantitative"}}},
{"data":{"name":"polys"},"transform":[{"filter":"datum.g==='r'"}],
 "mark":{"type":"line","fill":"rgb(150,30,20)","fillOpacity":0.4,"stroke":"#9e1b0f","strokeWidth":2.2,"strokeJoin":"round"},
 "encoding":{
  "x":{"field":"m","type":"quantitative","scale":{"type":"log","domain":[0.003,80],"nice":false},"axis":null},
  "y":{"field":"e","type":"quantitative","scale":{"type":"log","domain":[1e-12,1e-5],"nice":false},"axis":null},
  "detail":{"field":"id"},"order":{"field":"i","type":"quantitative"}}},
{"data":{"name":"labels"},
 "mark":{"type":"text","font":"Liberation Serif","fontWeight":"bold","fontSize":10.5,"align":"center","baseline":"middle"},
 "encoding":{
  "x":{"field":"m","type":"quantitative","scale":{"type":"log","domain":[0.003,80],"nice":false},"axis":null},
  "y":{"field":"e","type":"quantitative","scale":{"type":"log","domain":[1e-12,1e-5],"nice":false},"axis":null},
  "text":{"field":"t"},
  "color":{"field":"s","type":"nominal","scale":{"domain":["k","dl","mesa","epp3","mu3e","hps","sq","ship","mami","babar","kloe","apex","belle","atlas"],"range":["#333333","#c8893b","#cc33cc","#2ea8e0","#6161d8","#1f8c8c","#b5878e","#9acd32","#a87870","#5a2020","#3a3030","#8b1a8b","#3fd8cc","#ef8d6f"]},"legend":null}}},
{"data":{"name":"shadows"},
 "mark":{"type":"rect","fill":"#9a9a9a","opacity":0.35,"cornerRadius":4},
 "encoding":{
  "x":{"field":"m1","type":"quantitative","scale":{"type":"log","domain":[0.003,80],"nice":false},"axis":null},"x2":{"field":"m2"},
  "y":{"field":"e1","type":"quantitative","scale":{"type":"log","domain":[1e-12,1e-5],"nice":false},"axis":null},"y2":{"field":"e2"}}},
{"data":{"name":"boxes"},
 "mark":{"type":"rect","fill":"#ffffff","stroke":"#4f6d96","strokeWidth":1.3,"cornerRadius":4},
 "encoding":{
  "x":{"field":"m1","type":"quantitative","scale":{"type":"log","domain":[0.003,80],"nice":false},"axis":null},"x2":{"field":"m2"},
  "y":{"field":"e1","type":"quantitative","scale":{"type":"log","domain":[1e-12,1e-5],"nice":false},"axis":null},"y2":{"field":"e2"}}},
{"data":{"name":"polys"},"transform":[{"filter":"datum.g==='p'"}],
 "mark":{"type":"line","fill":"#ffffff","stroke":"#ffffff","strokeWidth":0.5},
 "encoding":{
  "x":{"field":"m","type":"quantitative","scale":{"type":"log","domain":[0.003,80],"nice":false},"axis":null},
  "y":{"field":"e","type":"quantitative","scale":{"type":"log","domain":[1e-12,1e-5],"nice":false},"axis":null},
  "detail":{"field":"id"},"order":{"field":"i","type":"quantitative"}}},
{"data":{"name":"polys"},"transform":[{"filter":"datum.g==='q'"}],
 "mark":{"type":"line","stroke":"#4f6d96","strokeWidth":1.3,"strokeJoin":"round"},
 "encoding":{
  "x":{"field":"m","type":"quantitative","scale":{"type":"log","domain":[0.003,80],"nice":false},"axis":null},
  "y":{"field":"e","type":"quantitative","scale":{"type":"log","domain":[1e-12,1e-5],"nice":false},"axis":null},
  "detail":{"field":"id"},"order":{"field":"i","type":"quantitative"}}},
{"data":{"name":"ctext"},"transform":[{"filter":"datum.k==='big'"}],
 "mark":{"type":"text","font":"Liberation Serif","fontSize":13,"color":"#444444","align":"center","baseline":"middle"},
 "encoding":{
  "x":{"field":"m","type":"quantitative","scale":{"type":"log","domain":[0.003,80],"nice":false},"axis":null},
  "y":{"field":"e","type":"quantitative","scale":{"type":"log","domain":[1e-12,1e-5],"nice":false},"axis":null},
  "text":{"field":"t"}}},
{"data":{"name":"ctext"},"transform":[{"filter":"datum.k==='small'"}],
 "mark":{"type":"text","font":"Liberation Serif","fontSize":12,"color":"#444444","align":"center","baseline":"middle"},
 "encoding":{
  "x":{"field":"m","type":"quantitative","scale":{"type":"log","domain":[0.003,80],"nice":false},"axis":null},
  "y":{"field":"e","type":"quantitative","scale":{"type":"log","domain":[1e-12,1e-5],"nice":false},"axis":null},
  "text":{"field":"t"}}},
{"data":{"name":"notes"},"transform":[{"filter":"datum.k==='head'"}],
 "mark":{"type":"text","font":"Liberation Serif","fontSize":21,"color":"#000000","align":"right","baseline":"middle"},
 "encoding":{
  "x":{"field":"m","type":"quantitative","scale":{"type":"log","domain":[0.003,80],"nice":false},"axis":null},
  "y":{"field":"e","type":"quantitative","scale":{"type":"log","domain":[1e-12,1e-5],"nice":false},"axis":null},
  "text":{"field":"t"}}},
{"data":{"name":"notes"},"transform":[{"filter":"datum.k==='red' || datum.k==='blue'"}],
 "mark":{"type":"text","font":"Liberation Serif","fontSize":17,"fontWeight":"bold","align":"right","baseline":"middle"},
 "encoding":{
  "x":{"field":"m","type":"quantitative","scale":{"type":"log","domain":[0.003,80],"nice":false},"axis":null},
  "y":{"field":"e","type":"quantitative","scale":{"type":"log","domain":[1e-12,1e-5],"nice":false},"axis":null},
  "text":{"field":"t"},
  "color":{"field":"k","type":"nominal","scale":{"domain":["red","blue"],"range":["#a3170c","#1b67ad"]},"legend":null}}},
{"data":{"name":"notes"},"transform":[{"filter":"datum.k==='redsub' || datum.k==='bluesub'"}],
 "mark":{"type":"text","font":"Liberation Serif","fontSize":11,"align":"right","baseline":"middle"},
 "encoding":{
  "x":{"field":"m","type":"quantitative","scale":{"type":"log","domain":[0.003,80],"nice":false},"axis":null},
  "y":{"field":"e","type":"quantitative","scale":{"type":"log","domain":[1e-12,1e-5],"nice":false},"axis":null},
  "text":{"field":"t"},
  "color":{"field":"k","type":"nominal","scale":{"domain":["redsub","bluesub"],"range":["#a8322a","#2a6fb0"]},"legend":null}}},
{"data":{"name":"ul"},
 "mark":{"type":"rule","strokeWidth":1.5},
 "encoding":{
  "x":{"field":"m1","type":"quantitative","scale":{"type":"log","domain":[0.003,80],"nice":false},"axis":null},"x2":{"field":"m2"},
  "y":{"field":"e","type":"quantitative","scale":{"type":"log","domain":[1e-12,1e-5],"nice":false},"axis":null},
  "color":{"field":"k","type":"nominal","scale":{"domain":["red","blue"],"range":["#a3170c","#1b67ad"]},"legend":null}}}
]
}
